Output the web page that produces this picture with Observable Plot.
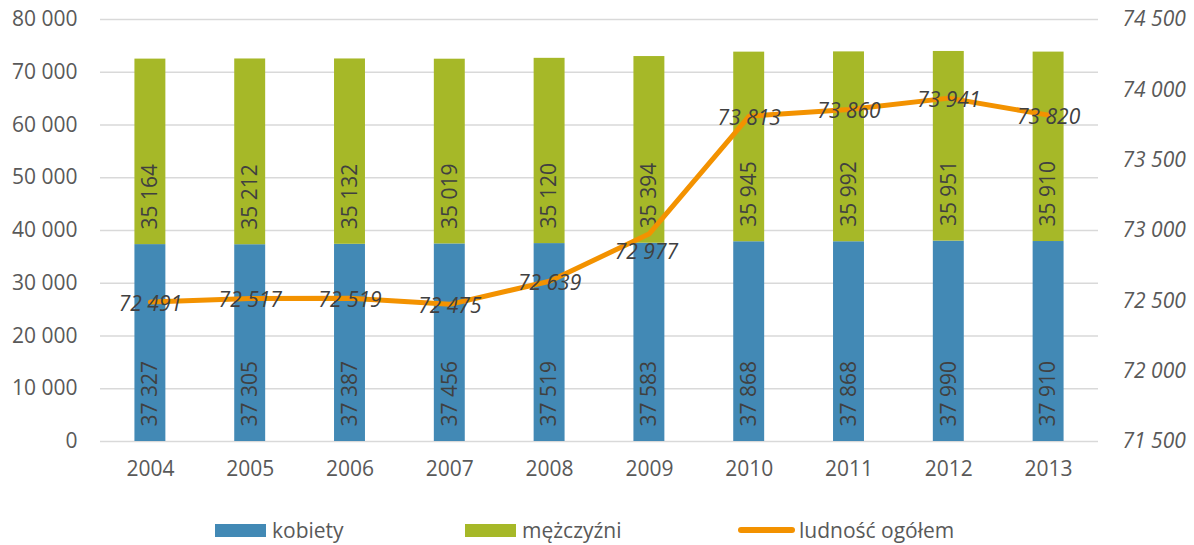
<!DOCTYPE html>
<html>
<head>
<meta charset="utf-8">
<script src="https://cdn.jsdelivr.net/npm/d3@7"></script>
<script src="https://cdn.jsdelivr.net/npm/@observablehq/plot@0.6"></script>
<style>
  html, body { margin: 0; padding: 0; background: #fff; }
  #wrap { position: relative; width: 1194px; height: 545px; font-family: "Open Sans", sans-serif; }
  #legend { position: absolute; top: 517px; left: 0; width: 1194px; height: 26px; font-size: 21px; color: #595959; }
  .item { position: absolute; top: 0; display: flex; align-items: center; height: 26px; white-space: nowrap; }
  .sw { display: inline-block; width: 51px; height: 13px; margin-right: 6px; }
  .ln { display: inline-block; width: 57px; height: 6px; border-radius: 3px; margin-right: 4px; }
</style>
</head>
<body>
<div id="wrap">
  <div id="chart"></div>
  <div id="legend"></div>
</div>
<script>
const years = ["2004","2005","2006","2007","2008","2009","2010","2011","2012","2013"];
const kobiety = [37327, 37305, 37387, 37456, 37519, 37583, 37868, 37868, 37990, 37910];
const mezczyzni = [35164, 35212, 35132, 35019, 35120, 35394, 35945, 35992, 35951, 35910];
const ogolem = [72491, 72517, 72519, 72475, 72639, 72977, 73813, 73860, 73941, 73820];
const leftTicks = [0, 10000, 20000, 30000, 40000, 50000, 60000, 70000, 80000];
const rightTicks = [71500, 72000, 72500, 73000, 73500, 74000, 74500];
const seriesNames = ["kobiety", "mężczyźni", "ludność ogółem"];
const colors = ["#4289b5", "#a6b828", "#f39200"];

const fmt = v => d3.format(",")(v).replace(/,/g, " ");
// right axis domain mapped onto the left scale
const rMin = 71500, rMax = 74500, lMax = 80000;
const toLeft = v => (v - rMin) / (rMax - rMin) * lMax;
const toRight = v => rMin + v / lMax * (rMax - rMin);

const bars = [];
years.forEach((y, i) => {
  bars.push({year: y, series: seriesNames[0], y1: 0, y2: kobiety[i], value: kobiety[i]});
  bars.push({year: y, series: seriesNames[1], y1: kobiety[i], y2: kobiety[i] + mezczyzni[i], value: mezczyzni[i]});
});
const line = years.map((y, i) => ({year: y, value: ogolem[i], ym: toLeft(ogolem[i])}));
const movedLabel = "2009"; // this data label sits below its point in the original

const font = "Open Sans, sans-serif";
const txt = "#404040";
const chart = Plot.plot({
  width: 1194,
  height: 495,
  marginTop: 19,
  marginBottom: 54,
  marginLeft: 100,
  marginRight: 96,
  style: {fontFamily: font, fontSize: "21px", color: "#595959", background: "#fff"},
  x: {domain: years, paddingInner: 0.69, paddingOuter: 0.345, round: false, label: null},
  y: {domain: [0, lMax], label: null},
  color: {domain: seriesNames, range: colors},
  marks: [
    Plot.gridY(leftTicks, {stroke: "#d9d9d9", strokeOpacity: 1, strokeWidth: 1.5}),
    Plot.axisY(leftTicks, {tickSize: 0, tickPadding: 23, tickFormat: fmt, fontSize: 21, fill: "#595959", label: null}),
    Plot.axisY(rightTicks.map(toLeft), {anchor: "right", tickSize: 0, tickPadding: 24, textAnchor: "start", tickFormat: d => fmt(Math.round(toRight(d))), fontSize: 21, fill: "#595959", fontStyle: "italic", label: null}),
    Plot.axisX({tickSize: 0, tickPadding: 20, fontSize: 21, fill: "#595959", label: null}),
    Plot.barY(bars, {x: "year", y1: "y1", y2: "y2", fill: "series"}),
    Plot.text(bars, {x: "year", y: "y1", text: d => fmt(d.value), rotate: -90, textAnchor: "start", dy: -15, fontSize: 21, fill: txt}),
    Plot.line(line, {x: "year", y: "ym", stroke: colors[2], strokeWidth: 5, strokeLinecap: "round", strokeLinejoin: "round"}),
    Plot.text(line, {filter: d => d.year !== movedLabel, x: "year", y: "ym", text: d => fmt(d.value), dy: 2, fontSize: 21, fontStyle: "italic", fill: txt}),
    Plot.text(line, {filter: d => d.year === movedLabel, x: "year", y: "ym", text: d => fmt(d.value), dy: 19, dx: -3, fontSize: 21, fontStyle: "italic", fill: txt})
  ]
});
document.getElementById("chart").appendChild(chart);

const legend = document.getElementById("legend");
const items = [
  {name: seriesNames[0], color: colors[0], left: 215, type: "sw"},
  {name: seriesNames[1], color: colors[1], left: 465, type: "sw"},
  {name: seriesNames[2], color: colors[2], left: 738, type: "ln"}
];
items.forEach(it => {
  const d = document.createElement("div");
  d.className = "item";
  d.style.left = it.left + "px";
  const s = document.createElement("span");
  s.className = it.type;
  s.style.background = it.color;
  d.appendChild(s);
  const t = document.createElement("span");
  t.textContent = it.name;
  d.appendChild(t);
  legend.appendChild(d);
});
</script>
</body>
</html>
